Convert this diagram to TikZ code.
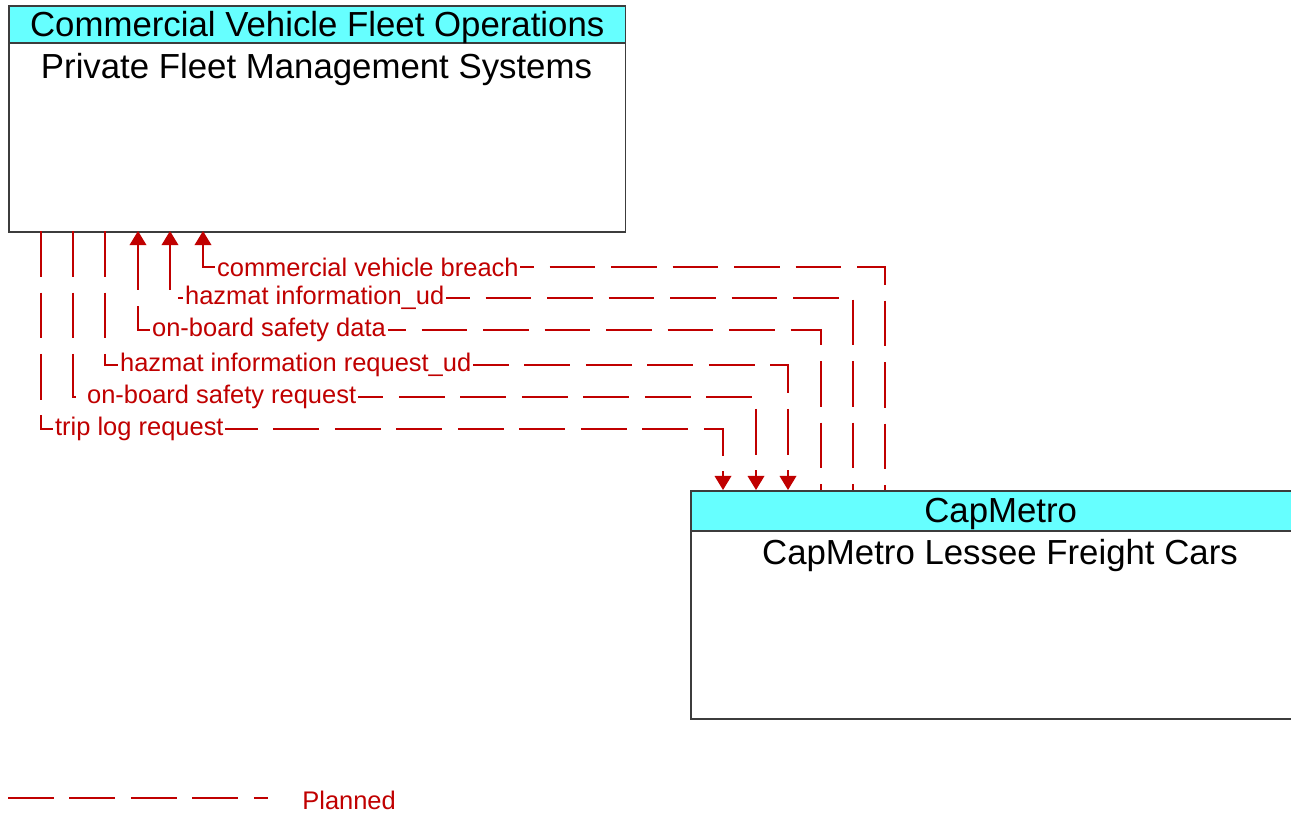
\documentclass[tikz,border=0pt]{standalone}
\usepackage{fontspec}
\setmainfont{Liberation Sans}
\usetikzlibrary{arrows.meta}
\definecolor{flowred}{RGB}{192,0,0}
\definecolor{headcyan}{RGB}{102,255,255}
\definecolor{boxgray}{RGB}{60,60,60}
\tikzset{
  planned/.style={flowred, line width=0.75pt, dash pattern=on 26pt off 9pt},
  downtip/.style={-{Triangle[width=9.5pt,length=8pt]}},
  uptip/.style={{Triangle[width=9.5pt,length=8pt]}-},
  flowlabel/.style={anchor=west, fill=white, text=flowred, inner xsep=1pt, inner ysep=0pt, font=\fontsize{14.5}{16}\selectfont},
  boxhead/.style={draw=boxgray, line width=0.9pt, fill=headcyan, anchor=north west, inner sep=0pt, text depth=0pt, font=\fontsize{19.8}{22}\selectfont},
  boxbody/.style={draw=boxgray, line width=0.9pt, fill=white, anchor=north west, inner sep=0pt},
  boxname/.style={inner sep=0pt, font=\fontsize{19.8}{22}\selectfont},
}
\begin{document}
\begin{tikzpicture}[x=0.02cm,y=-0.02cm]
\useasboundingbox (0,0) rectangle (1291,812);
% the two systems
\node[boxbody, minimum width=12.34cm, minimum height=4.52cm] (pfms) at (8,5) {};
\node[boxhead, minimum width=12.34cm, minimum height=0.74cm] (pfmsHead) at (8,5) {Commercial Vehicle Fleet Operations};
\node[boxname] (pfmsName) at (316.5,70) {Private Fleet Management Systems};
\node[boxbody, minimum width=12.4cm, minimum height=4.56cm] (cmfc) at (690,490) {};
\node[boxhead, minimum width=12.4cm, minimum height=0.8cm] (cmfcHead) at (690,490) {CapMetro};
\node[boxname] (cmfcName) at (1000,555) {CapMetro Lessee Freight Cars};
% ends and corners of the flows
\coordinate (p1) at (41,231);  \coordinate (k1) at (41,429);  \coordinate (c1) at (723,490);
\coordinate (p2) at (73,231);  \coordinate (k2) at (73,397);  \coordinate (c2) at (756,490);
\coordinate (p3) at (105,231); \coordinate (k3) at (105,365); \coordinate (c3) at (788,490);
\coordinate (p4) at (138,231); \coordinate (k4) at (138,330); \coordinate (c4) at (821,490);
\coordinate (p5) at (170,231); \coordinate (k5) at (170,298); \coordinate (c5) at (853,490);
\coordinate (p6) at (203,231); \coordinate (k6) at (203,267); \coordinate (c6) at (885,490);
% requests to the freight cars
\draw[planned, downtip] (p1) -- (k1) -| (c1);
\draw[planned, downtip] (p2) -- (k2) -| (c2);
\draw[planned, downtip] (p3) -- (k3) -| (c3);
% data back to the fleet
\draw[planned, uptip] (p4) -- (k4) -| (c4);
\draw[planned, uptip] (p5) -- (k5) -| (c5);
\draw[planned, uptip] (p6) -- (k6) -| (c6);
\node[flowlabel] (l1) at (53,429) {trip log request};
\node[flowlabel] (l2) at (85,397) {on-board safety request};
\node[flowlabel] (l3) at (118,365) {hazmat information request\_ud};
\node[flowlabel] (l4) at (150,330) {on-board safety data};
\node[flowlabel] (l5) at (183,298) {hazmat information\_ud};
\node[flowlabel] (l6) at (215,267) {commercial vehicle breach};
% legend
\coordinate (lg1) at (8,798);
\coordinate (lg2) at (268,798);
\draw[planned] (lg1) -- (lg2);
\node[anchor=west, text=flowred, inner sep=0pt, font=\fontsize{14.5}{16}\selectfont] (lgText) at (302,800) {Planned};
\end{tikzpicture}
\end{document}
